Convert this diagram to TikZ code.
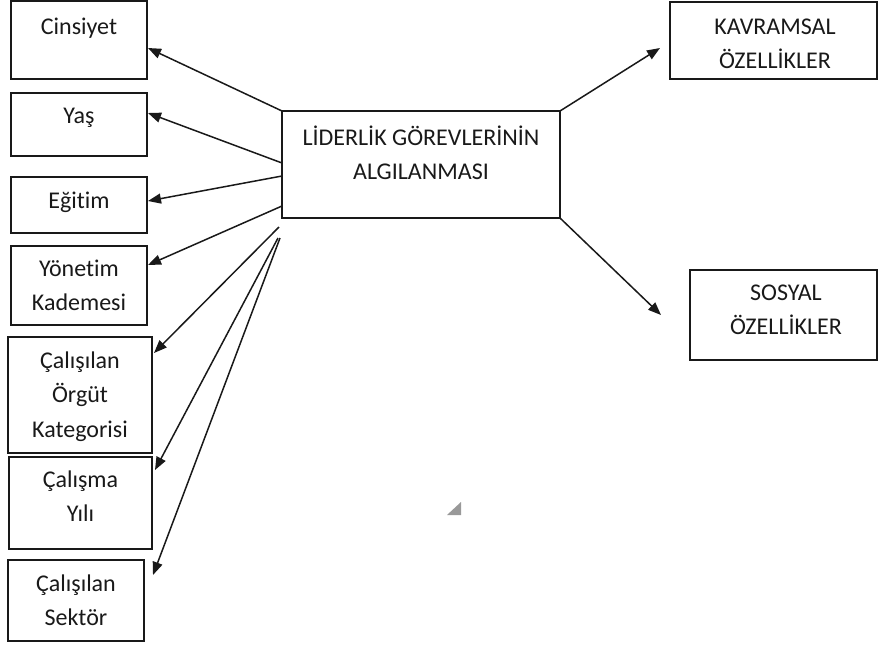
\documentclass[tikz,border=0pt]{standalone}
\usepackage{fontspec}
\setmainfont{Carlito}[Ligatures=NoCommon]
\usetikzlibrary{arrows.meta}
\newcommand{\tstrut}{\rule{0pt}{20pt}}
\begin{document}
\begin{tikzpicture}[x=1pt,y=-1pt,
  box/.style={draw=black!90, line width=1.6pt, rectangle, inner sep=0pt},
  txt/.style={font=\fontsize{24}{34.5}\selectfont, text=black!90, align=center, inner sep=0pt, anchor=north},
  arr/.style={draw=black!90, line width=1.5pt, -{Triangle[length=13pt,width=10pt]}}]
\useasboundingbox (0,0) rectangle (878,646);
% boxes
\node[box, minimum width=136, minimum height=78] (cins) at (79,40) {};
\node[box, minimum width=136, minimum height=63] (yas) at (79,124.5) {};
\node[box, minimum width=136, minimum height=56] (egt) at (79,205) {};
\node[box, minimum width=136, minimum height=79] (yon) at (79,285.5) {};
\node[box, minimum width=144, minimum height=116] (org) at (80,395) {};
\node[box, minimum width=143, minimum height=92] (cal) at (80.5,503) {};
\node[box, minimum width=136, minimum height=81] (sek) at (76,600.5) {};
\node[box, minimum width=278, minimum height=107] (ctr) at (421,164.5) {};
\node[box, minimum width=207, minimum height=77] (kav) at (773.5,40.5) {};
\node[box, minimum width=187, minimum height=90] (sos) at (783.5,315) {};
% texts
\node[txt] (cinsT) at (79,14) {\tstrut Cinsiyet};
\node[txt] (yasT) at (79,103) {\tstrut Yaş};
\node[txt] (egtT) at (79,188) {\tstrut Eğitim};
\node[txt] (yonT) at (79,256) {\tstrut Yönetim\\Kademesi};
\node[txt] (orgT) at (80,348) {\tstrut Çalışılan\\Örgüt\\Kategorisi};
\node[txt] (calT) at (80.5,467) {\tstrut Çalışma\\Yılı};
\node[txt] (sekT) at (76,571) {\tstrut Çalışılan\\Sektör};
\node[txt] (ctrT) at (421,125) {\tstrut LİDERLİK GÖREVLERİNİN\\ALGILANMASI};
\node[txt] (kavT) at (775,14) {\tstrut KAVRAMSAL\\ÖZELLİKLER};
\node[txt] (sosT) at (786,280) {\tstrut SOSYAL\\ÖZELLİKLER};
% connector ends
\coordinate (s1) at (282,111);
\coordinate (s2) at (282,163);
\coordinate (s3) at (282,176);
\coordinate (s4) at (282,206);
\coordinate (s5) at (279,227);
\coordinate (s6) at (278,238);
\coordinate (s7) at (280,238);
\coordinate (s8) at (560,111);
\coordinate (s9) at (560,218);
\coordinate (t1) at (148,48);
\coordinate (t2) at (148,113);
\coordinate (t3) at (148,201);
\coordinate (t4) at (148,265);
\coordinate (t5) at (154,353);
\coordinate (t6) at (155,470);
\coordinate (t7) at (153,575);
\coordinate (t8) at (660,48);
\coordinate (t9) at (661,315);
\draw[arr] (s1) -- (t1);
\draw[arr] (s2) -- (t2);
\draw[arr] (s3) -- (t3);
\draw[arr] (s4) -- (t4);
\draw[arr] (s5) -- (t5);
\draw[arr] (s6) -- (t6);
\draw[arr] (s7) -- (t7);
\draw[arr] (s8) -- (t8);
\draw[arr] (s9) -- (t9);
% resize handle
\fill[black!40] (447,515) -- (461,502) -- (461,515) -- cycle;
\end{tikzpicture}
\end{document}
